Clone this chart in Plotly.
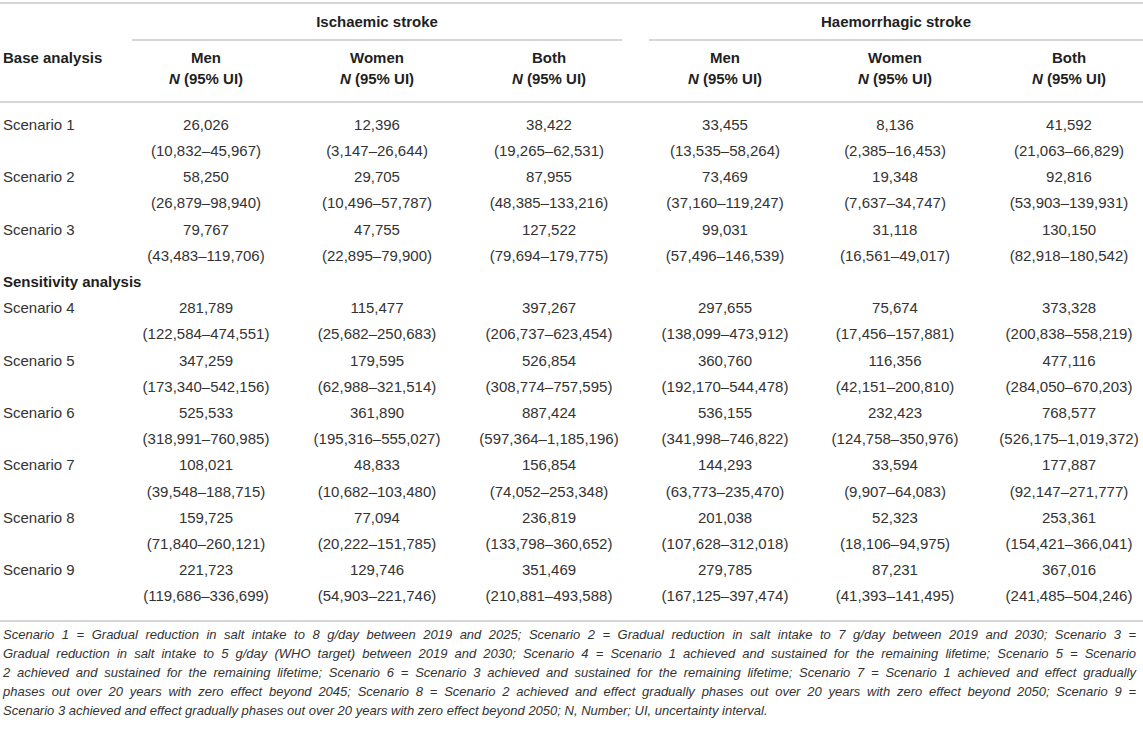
import plotly.graph_objects as go

# ---- data ----
scenarios = ["Scenario 1", "Scenario 2", "Scenario 3", "Scenario 4", "Scenario 5",
             "Scenario 6", "Scenario 7", "Scenario 8", "Scenario 9"]
section_labels = ["Base analysis", "Sensitivity analysis"]
stroke_types = ["Ischaemic stroke", "Haemorrhagic stroke"]
sex_groups = ["Men", "Women", "Both"]

isch_men_n = [26026, 58250, 79767, 281789, 347259, 525533, 108021, 159725, 221723]
isch_men_lo = [10832, 26879, 43483, 122584, 173340, 318991, 39548, 71840, 119686]
isch_men_hi = [45967, 98940, 119706, 474551, 542156, 760985, 188715, 260121, 336699]

isch_women_n = [12396, 29705, 47755, 115477, 179595, 361890, 48833, 77094, 129746]
isch_women_lo = [3147, 10496, 22895, 25682, 62988, 195316, 10682, 20222, 54903]
isch_women_hi = [26644, 57787, 79900, 250683, 321514, 555027, 103480, 151785, 221746]

isch_both_n = [38422, 87955, 127522, 397267, 526854, 887424, 156854, 236819, 351469]
isch_both_lo = [19265, 48385, 79694, 206737, 308774, 597364, 74052, 133798, 210881]
isch_both_hi = [62531, 133216, 179775, 623454, 757595, 1185196, 253348, 360652, 493588]

haem_men_n = [33455, 73469, 99031, 297655, 360760, 536155, 144293, 201038, 279785]
haem_men_lo = [13535, 37160, 57496, 138099, 192170, 341998, 63773, 107628, 167125]
haem_men_hi = [58264, 119247, 146539, 473912, 544478, 746822, 235470, 312018, 397474]

haem_women_n = [8136, 19348, 31118, 75674, 116356, 232423, 33594, 52323, 87231]
haem_women_lo = [2385, 7637, 16561, 17456, 42151, 124758, 9907, 18106, 41393]
haem_women_hi = [16453, 34747, 49017, 157881, 200810, 350976, 64083, 94975, 141495]

haem_both_n = [41592, 92816, 130150, 373328, 477116, 768577, 177887, 253361, 367016]
haem_both_lo = [21063, 53903, 82918, 200838, 284050, 526175, 92147, 154421, 241485]
haem_both_hi = [66829, 139931, 180542, 558219, 670203, 1019372, 271777, 366041, 504246]

footnote_lines = [
    "Scenario 1 = Gradual reduction in salt intake to 8 g/day between 2019 and 2025; Scenario 2 = Gradual reduction in salt intake to 7 g/day between 2019 and 2030; Scenario 3 =",
    "Gradual reduction in salt intake to 5 g/day (WHO target) between 2019 and 2030; Scenario 4 = Scenario 1 achieved and sustained for the remaining lifetime; Scenario 5 = Scenario",
    "2 achieved and sustained for the remaining lifetime; Scenario 6 = Scenario 3 achieved and sustained for the remaining lifetime; Scenario 7 = Scenario 1 achieved and effect gradually",
    "phases out over 20 years with zero effect beyond 2045; Scenario 8 = Scenario 2 achieved and effect gradually phases out over 20 years with zero effect beyond 2050; Scenario 9 =",
    "Scenario 3 achieved and effect gradually phases out over 20 years with zero effect beyond 2050; N, Number; UI, uncertainty interval.",
]

columns = [
    (isch_men_n, isch_men_lo, isch_men_hi),
    (isch_women_n, isch_women_lo, isch_women_hi),
    (isch_both_n, isch_both_lo, isch_both_hi),
    (haem_men_n, haem_men_lo, haem_men_hi),
    (haem_women_n, haem_women_lo, haem_women_hi),
    (haem_both_n, haem_both_lo, haem_both_hi),
]

# ---- layout constants (pixel-like units) ----
W, H = 1143, 729
COL_X = [206, 377, 549, 725, 895, 1069]
GROUP_SPAN = [(132, 622), (649, 1143)]
LABEL_X = 3
ROW0, ROW_STEP = 126, 26.2
FOOT0, FOOT_STEP = 636, 19
FOOT_RIGHT = 1136
FOOT_SIZE = 13
TXT = "#333333"
HEAD = "#1f1f1f"
RULE = "#c9c9c9"
FONT = "Liberation Sans, Arial, sans-serif"

# Arial / Liberation Sans advance widths (1/1000 em), used to justify the footnote
_AW = {" ": 278, "(": 333, ")": 333, ",": 278, ";": 278, ".": 278, "/": 278, "=": 584, "-": 333,
       "A": 667, "B": 667, "C": 722, "D": 722, "E": 667, "F": 611, "G": 778, "H": 722, "I": 278,
       "J": 500, "K": 667, "L": 556, "M": 833, "N": 722, "O": 778, "P": 667, "Q": 778, "R": 722,
       "S": 667, "T": 611, "U": 722, "V": 667, "W": 944, "X": 667, "Y": 667, "Z": 611,
       "a": 556, "b": 556, "c": 500, "d": 556, "e": 556, "f": 278, "g": 556, "h": 556, "i": 222,
       "j": 222, "k": 500, "l": 222, "m": 833, "n": 556, "o": 556, "p": 556, "q": 556, "r": 333,
       "s": 500, "t": 278, "u": 556, "v": 500, "w": 722, "x": 500, "y": 500, "z": 500}


def text_w(s, size):
    return sum(_AW.get(c, 556) for c in s) * size / 1000.0


def line_y(i):
    return ROW0 + ROW_STEP * i


# line index for each scenario (count line; range is the next one)
scen_line = []
for k in range(len(scenarios)):
    scen_line.append(2 * k if k < 3 else 7 + 2 * (k - 3))
sens_line = 6

fig = go.Figure()

# body cells
for cx, (nv, lo, hi) in zip(COL_X, columns):
    xs, ys, tx = [], [], []
    for k in range(len(scenarios)):
        xs += [cx, cx]
        ys += [line_y(scen_line[k]), line_y(scen_line[k] + 1)]
        tx += [f"{nv[k]:,}", f"({lo[k]:,}–{hi[k]:,})"]
    fig.add_trace(go.Scatter(x=xs, y=ys, text=tx, mode="text", textposition="middle center",
                             textfont=dict(family=FONT, size=15, color=TXT), hoverinfo="skip"))

# row labels
fig.add_trace(go.Scatter(
    x=[LABEL_X] * len(scenarios), y=[line_y(l) for l in scen_line], text=scenarios,
    mode="text", textposition="middle right",
    textfont=dict(family=FONT, size=15, color=TXT), hoverinfo="skip"))
fig.add_trace(go.Scatter(
    x=[LABEL_X, LABEL_X], y=[59, line_y(sens_line)],
    text=[f"<b>{s}</b>" for s in section_labels],
    mode="text", textposition="middle right",
    textfont=dict(family=FONT, size=15, color=HEAD), hoverinfo="skip"))

# header: stroke types
fig.add_trace(go.Scatter(
    x=[(a + b) / 2 for a, b in GROUP_SPAN], y=[23, 23], text=[f"<b>{s}</b>" for s in stroke_types],
    mode="text", textposition="middle center",
    textfont=dict(family=FONT, size=15, color=HEAD), hoverinfo="skip"))

# header: sex groups + N (95% UI)
hx, hy, ht = [], [], []
for i, cx in enumerate(COL_X):
    hx += [cx, cx]
    hy += [59, 80]
    ht += [f"<b>{sex_groups[i % 3]}</b>", "<b><i>N</i> (95% UI)</b>"]
fig.add_trace(go.Scatter(x=hx, y=hy, text=ht, mode="text", textposition="middle center",
                         textfont=dict(family=FONT, size=15, color=HEAD), hoverinfo="skip"))

# footnote, justified like the source (last line left-aligned)
fx, fy, ft = [], [], []
for i, ln in enumerate(footnote_lines):
    y = FOOT0 + FOOT_STEP * i
    words = ln.split(" ")
    if i == len(footnote_lines) - 1:
        fx.append(LABEL_X)
        fy.append(y)
        ft.append(f"<i>{ln}</i>")
        continue
    widths = [text_w(w, FOOT_SIZE) for w in words]
    gap = (FOOT_RIGHT - LABEL_X - sum(widths)) / (len(words) - 1)
    x = LABEL_X
    for w, ww in zip(words, widths):
        fx.append(x)
        fy.append(y)
        ft.append(f"<i>{w}</i>")
        x += ww + gap
fig.add_trace(go.Scatter(
    x=fx, y=fy, text=ft, mode="text", textposition="middle right",
    textfont=dict(family=FONT, size=FOOT_SIZE, color=TXT), hoverinfo="skip"))

# rules
shapes = [
    dict(type="line", x0=0, x1=W, y0=3, y1=3),
    dict(type="line", x0=0, x1=W, y0=102, y1=102),
    dict(type="line", x0=0, x1=W, y0=621, y1=621),
]
for a, b in GROUP_SPAN:
    shapes.append(dict(type="line", x0=a, x1=b, y0=40, y1=40))
for s in shapes:
    s.update(xref="x", yref="y", line=dict(color=RULE, width=1.6), layer="below")

fig.update_layout(
    width=W, height=H,
    margin=dict(l=0, r=0, t=0, b=0),
    paper_bgcolor="white", plot_bgcolor="white",
    showlegend=False,
    shapes=shapes,
    xaxis=dict(range=[0, W], visible=False, fixedrange=True),
    yaxis=dict(range=[H, 0], visible=False, fixedrange=True),
)

fig.write_html("out.html", config={"displayModeBar": False},
               post_script="document.body.style.margin='0';")
